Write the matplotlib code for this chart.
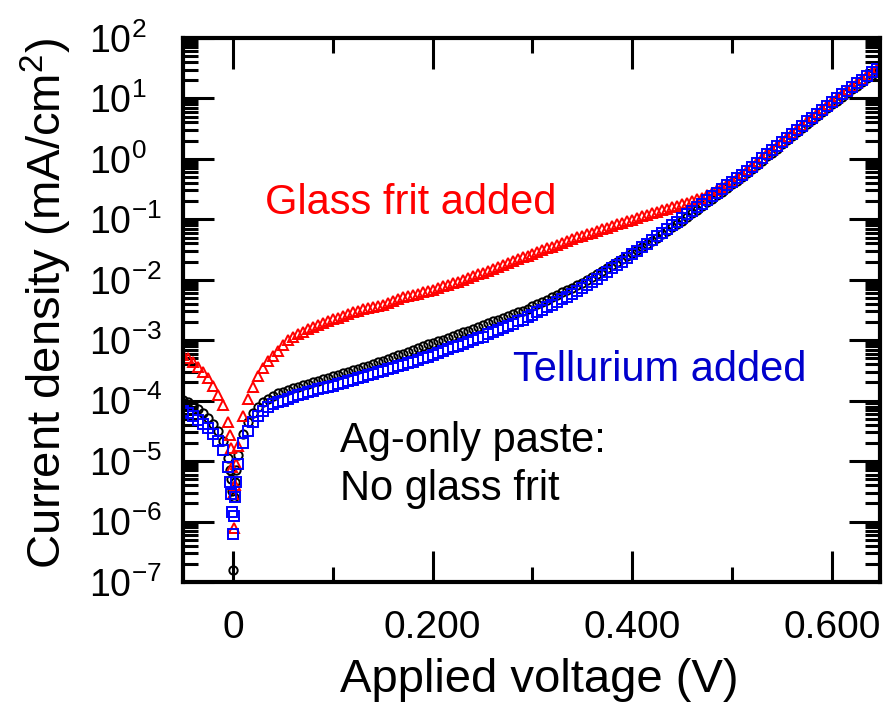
import numpy as np
import matplotlib
matplotlib.use("Agg")
import matplotlib.pyplot as plt
from matplotlib.ticker import LogLocator, NullFormatter, FixedLocator

plt.rcParams['font.family'] = 'Liberation Sans'
plt.rcParams['mathtext.fontset'] = 'custom'
plt.rcParams['mathtext.rm'] = 'Liberation Sans'
plt.rcParams['mathtext.it'] = 'Liberation Sans:italic'
plt.rcParams['mathtext.bf'] = 'Liberation Sans:bold'

## Voltage sweep (V): reverse branch, points around 0 V, forward branch
volt_rev = np.round(np.arange(-0.050, -0.004, 0.005), 3)
volt_dip = [-0.003, -0.002, -0.001, 0.0, 0.001, 0.002, 0.003]
volt_fwd = np.round(np.arange(0.005, 0.6451, 0.005), 3)
volt = np.concatenate([volt_rev, volt_dip, volt_fwd])

## log10 of |J| in mA/cm2
glass_log = [
    -3.24, -3.30, -3.36, -3.44, -3.53, -3.63, -3.75, -3.90, -4.07, -4.35,
    -4.56, -4.78, -5.10, -5.55, -6.10, -5.40, -5.05,
    -4.75, -4.25, -3.98, -3.78, -3.60, -3.46, -3.35, -3.26, -3.18, -3.08,
    -3.00, -2.95, -2.90, -2.86, -2.82, -2.78, -2.75, -2.71, -2.68,
    -2.65, -2.63, -2.60, -2.57, -2.54, -2.52, -2.49, -2.47, -2.45, -2.43,
    -2.41, -2.38, -2.35, -2.32, -2.29, -2.27, -2.25, -2.23, -2.21, -2.19,
    -2.17, -2.14, -2.11, -2.08, -2.05, -2.03, -2.00, -1.97, -1.94, -1.91,
    -1.88, -1.85, -1.82, -1.79, -1.76, -1.73, -1.69, -1.66, -1.63, -1.60,
    -1.57, -1.54, -1.51, -1.48, -1.45, -1.42, -1.39, -1.36, -1.33, -1.30,
    -1.28, -1.25, -1.22, -1.19, -1.16, -1.14, -1.11, -1.08, -1.06, -1.03,
    -1.01, -0.98, -0.95, -0.93, -0.90, -0.88, -0.85, -0.83, -0.80, -0.78,
    -0.75, -0.73, -0.70, -0.67, -0.64, -0.60, -0.56, -0.52, -0.47, -0.42,
    -0.37, -0.31, -0.25, -0.19, -0.12, -0.05, 0.02, 0.09, 0.15, 0.22,
    0.29, 0.36, 0.43, 0.49, 0.56, 0.63, 0.69, 0.76, 0.82, 0.89,
    0.95, 1.01, 1.08, 1.14, 1.20, 1.26, 1.32, 1.38, 1.44, 1.49,
]

tellurium_log = [
    -4.17, -4.21, -4.26, -4.32, -4.39, -4.46, -4.55, -4.66, -4.82, -5.10,
    -5.35, -5.55, -5.85, -6.20, -5.90, -5.60, -5.35,
    -5.05, -4.70, -4.50, -4.36, -4.25, -4.17, -4.10, -4.05, -4.02, -4.00,
    -3.97, -3.94, -3.91, -3.89, -3.86, -3.84, -3.81, -3.79, -3.77,
    -3.75, -3.73, -3.71, -3.68, -3.66, -3.63, -3.61, -3.58, -3.56, -3.53,
    -3.51, -3.48, -3.46, -3.43, -3.41, -3.38, -3.36, -3.33, -3.30, -3.27,
    -3.24, -3.21, -3.18, -3.15, -3.12, -3.09, -3.06, -3.03, -3.00, -2.97,
    -2.94, -2.90, -2.87, -2.83, -2.80, -2.76, -2.73, -2.69, -2.66, -2.62,
    -2.58, -2.54, -2.50, -2.45, -2.41, -2.37, -2.32, -2.28, -2.23, -2.18,
    -2.14, -2.09, -2.03, -1.98, -1.92, -1.87, -1.81, -1.75, -1.70, -1.64,
    -1.58, -1.52, -1.46, -1.40, -1.34, -1.28, -1.22, -1.16, -1.10, -1.04,
    -0.98, -0.92, -0.86, -0.80, -0.74, -0.68, -0.62, -0.56, -0.50, -0.44,
    -0.38, -0.32, -0.26, -0.20, -0.13, -0.06, 0.01, 0.08, 0.14, 0.21,
    0.28, 0.35, 0.42, 0.48, 0.55, 0.62, 0.68, 0.75, 0.81, 0.88,
    0.94, 1.00, 1.07, 1.13, 1.19, 1.25, 1.31, 1.37, 1.43, 1.48,
]

ag_only_log = [
    -3.99, -4.03, -4.08, -4.14, -4.21, -4.29, -4.38, -4.50, -4.66, -4.95,
    -5.15, -5.30, -5.50, -6.80, -5.60, -5.35, -5.15,
    -4.90, -4.55, -4.35, -4.21, -4.11, -4.03, -3.97, -3.92, -3.88, -3.85,
    -3.82, -3.79, -3.77, -3.74, -3.72, -3.69, -3.67, -3.64, -3.62,
    -3.60, -3.58, -3.55, -3.53, -3.50, -3.47, -3.45, -3.42, -3.39, -3.36,
    -3.34, -3.31, -3.28, -3.25, -3.22, -3.19, -3.16, -3.13, -3.10, -3.07,
    -3.04, -3.02, -2.99, -2.96, -2.93, -2.90, -2.87, -2.84, -2.81, -2.78,
    -2.75, -2.72, -2.69, -2.66, -2.63, -2.60, -2.57, -2.54, -2.51, -2.48,
    -2.44, -2.40, -2.36, -2.33, -2.29, -2.25, -2.21, -2.17, -2.13, -2.09,
    -2.05, -2.00, -1.96, -1.91, -1.86, -1.81, -1.76, -1.71, -1.66, -1.61,
    -1.56, -1.51, -1.46, -1.41, -1.36, -1.31, -1.25, -1.19, -1.13, -1.07,
    -1.02, -0.96, -0.90, -0.84, -0.78, -0.72, -0.66, -0.60, -0.54, -0.48,
    -0.42, -0.36, -0.30, -0.24, -0.17, -0.10, -0.03, 0.04, 0.10, 0.17,
    0.24, 0.31, 0.38, 0.44, 0.51, 0.58, 0.64, 0.71, 0.77, 0.84,
    0.90, 0.96, 1.03, 1.09, 1.15, 1.21, 1.27, 1.33, 1.39, 1.44,
]

decades = [-7, -6, -5, -4, -3, -2, -1, 0, 1, 2]
x_major = [0.0, 0.2, 0.4, 0.6]
x_labels = ["0", "0.200", "0.400", "0.600"]
x_minor = [0.1, 0.3, 0.5]

## Figure
fig = plt.figure(figsize=(8.85, 7.05), dpi=100)
ax = fig.add_axes([183 / 885, 123 / 705, 697 / 885, 544 / 705])

ax.plot(volt, 10.0 ** np.array(ag_only_log), linestyle="none", marker="o",
        markersize=6, markerfacecolor="none", markeredgecolor="black", markeredgewidth=1.4)
ax.plot(volt, 10.0 ** np.array(glass_log), linestyle="none", marker="^",
        markersize=7.5, markerfacecolor="none", markeredgecolor="#ff0000", markeredgewidth=1.4)
ax.plot(volt, 10.0 ** np.array(tellurium_log), linestyle="none", marker="s",
        markersize=6.5, markerfacecolor="none", markeredgecolor="#0000ff", markeredgewidth=1.4)

ax.set_yscale("log")
ax.set_xlim(-0.05, 0.648)
ax.set_ylim(1e-7, 1e2)

# ticks on all four sides, pointing in
ax.xaxis.set_major_locator(FixedLocator(x_major))
ax.xaxis.set_minor_locator(FixedLocator(x_minor))
ax.set_xticklabels(x_labels)
ax.set_yticks([10.0 ** d for d in decades])
ax.set_yticklabels([f"10$^{{{d}}}$" for d in decades])
ax.yaxis.set_minor_locator(LogLocator(base=10, subs=np.arange(2, 10), numticks=30))
ax.yaxis.set_minor_formatter(NullFormatter())

ax.tick_params(which="both", direction="in", top=True, right=True, width=2.2, color="black")
ax.tick_params(which="major", length=22)
ax.tick_params(which="minor", length=11)
ax.tick_params(axis="x", which="major", labelsize=28, pad=20)
ax.tick_params(axis="y", which="major", labelsize=27, pad=68)
for lab in ax.get_yticklabels():
    lab.set_horizontalalignment("left")
for sp in ax.spines.values():
    sp.set_linewidth(3)

## Axis titles
fig.text(539 / 885, 1 - 692 / 705, "Applied voltage (V)", fontsize=34,
         ha="center", va="baseline")
fig.text(46 / 885, 1 - 303 / 705, "Current density (mA/cm$^2$)", fontsize=34,
         rotation=90, ha="center", va="center")

## Curve labels
ax.text(0.032, 10 ** -0.91, "Glass frit added", color="#ff0000", fontsize=30, va="baseline")
ax.text(0.28, 10 ** -3.675, "Tellurium added", color="#0000cc", fontsize=30, va="baseline")
ax.text(0.107, 10 ** -4.85, "Ag-only paste:", color="black", fontsize=30, va="baseline")
ax.text(0.107, 10 ** -5.64, "No glass frit", color="black", fontsize=30, va="baseline")

fig.savefig("out.png", dpi=100)
